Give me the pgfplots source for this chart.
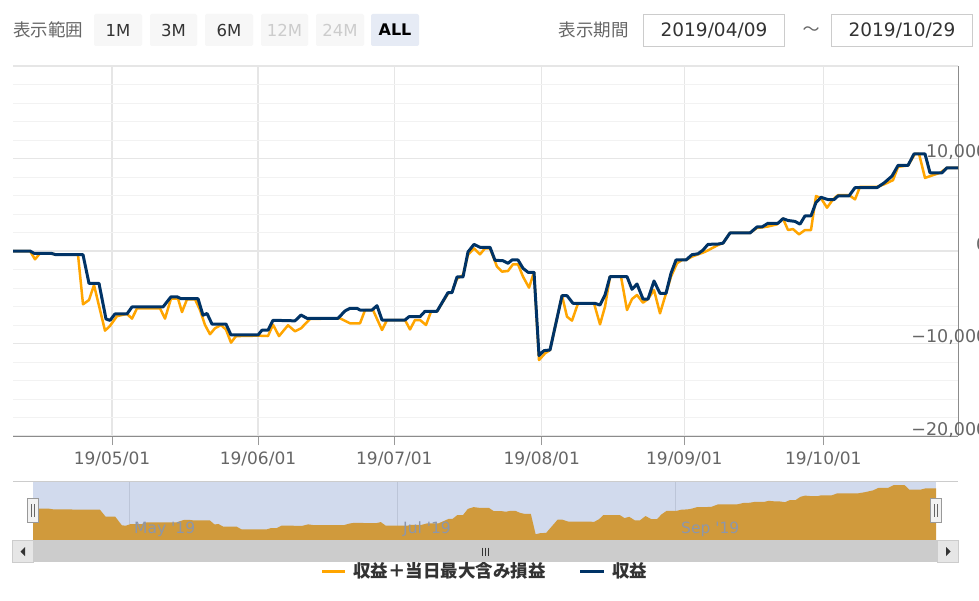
\documentclass[border=0pt]{standalone}
\usepackage{pgfplots}
\pgfplotsset{compat=1.18}
\usepackage{pgfplotstable}
\usepackage{fontspec}
\setmainfont{DejaVu Sans}
\newfontfamily\jp{Noto Sans CJK JP}
\definecolor{serA}{HTML}{FFA500}
\definecolor{serB}{HTML}{003366}
\definecolor{c666}{HTML}{666666}
\definecolor{c333}{HTML}{333333}
\definecolor{cCCC}{HTML}{CCCCCC}
\definecolor{cE6}{HTML}{E6E6E6}
\definecolor{cF2}{HTML}{F2F2F2}
\definecolor{c999}{HTML}{999999}
\definecolor{axisC}{HTML}{8C8C8C}
\definecolor{maskC}{HTML}{D1DAED}
\definecolor{navFill}{HTML}{D09A3C}
\definecolor{navGrid}{HTML}{BCC5D8}
\definecolor{navText}{HTML}{8C96AA}
\definecolor{btnBg}{HTML}{F7F7F7}
\definecolor{allBg}{HTML}{E6EBF5}

% x = ordinal (trading-day) position, y = yen
\pgfplotstableread{
x y
13 0
30 0
34 -250
51 -250
56 -400
83 -400
89 -3500
99 -3500
106 -7350
110 -7500
115 -6800
127 -6800
132 -6050
163 -6050
171 -4950
177 -4950
181 -5150
198 -5150
203 -6950
207 -6750
212 -7900
226 -7900
231 -9080
258 -9080
262 -8560
268 -8560
273 -7490
295 -7550
301 -6920
307 -7280
338 -7280
345 -6480
350 -6200
357 -6200
360 -6380
372 -6380
377 -5910
382 -7460
405 -7460
409 -7100
420 -7100
425 -6520
437 -6520
448 -4500
452 -4500
457 -2810
463 -2810
468 -100
474 720
480 400
490 400
495 -1000
503 -1050
508 -1330
512 -970
518 -970
523 -1870
528 -2300
534 -2300
539 -11300
544 -10770
550 -10700
562 -4830
567 -4830
573 -5660
595 -5660
600 -5840
605 -4760
610 -2770
627 -2770
632 -4140
637 -3570
643 -5190
648 -5190
654 -3240
660 -4580
666 -4580
671 -2410
676 -970
686 -970
692 -400
698 -300
703 100
708 720
718 750
723 850
730 1950
750 1950
757 2600
762 2600
768 3000
778 3000
783 3500
788 3300
795 3200
800 2900
805 3800
811 3800
816 5250
821 5800
828 5560
834 5560
838 5950
849 5950
855 6850
877 6850
884 7350
892 8100
898 9250
908 9250
914 10500
925 10500
930 8450
942 8450
947 9000
958 9000
}\shueki

\pgfplotstableread{
x y
13 0
30 0
35 -900
40 -250
51 -250
56 -400
78 -400
83 -5760
89 -5300
94 -3680
105 -8610
110 -8100
117 -7040
127 -6800
132 -7310
137 -6200
160 -6200
165 -7310
171 -5150
178 -5150
182 -6600
187 -5220
195 -5220
200 -6380
205 -8000
210 -9000
215 -8350
221 -8000
226 -8500
231 -9910
236 -9200
258 -9150
268 -9190
273 -7960
279 -9200
288 -8030
295 -8680
301 -8360
310 -7350
340 -7280
350 -7820
360 -7820
365 -6400
373 -6380
382 -8540
387 -7460
405 -7460
410 -8480
415 -7460
420 -7460
426 -8000
431 -6550
437 -6520
448 -4600
452 -4400
457 -3000
463 -2600
468 -400
474 280
480 -360
485 290
490 290
497 -1700
502 -2230
508 -2160
513 -1440
518 -1440
523 -2770
529 -3960
534 -2300
539 -11790
545 -11070
550 -10700
562 -4830
567 -7100
572 -7530
578 -5660
594 -5660
600 -7930
605 -6020
610 -2770
621 -2770
627 -6380
632 -5190
637 -4760
643 -5590
648 -5190
654 -4220
660 -6740
666 -4580
671 -2770
677 -1330
682 -970
686 -970
692 -610
698 -360
703 -180
708 70
718 650
723 850
730 1950
750 1950
757 2500
762 2550
768 2650
777 2880
783 3500
788 2270
793 2370
799 1800
805 2270
811 2270
816 5940
821 5700
827 4680
833 5580
838 6040
849 6040
855 5580
860 6940
877 6940
884 7200
893 7660
898 9100
908 9250
915 10500
919 10500
925 7900
933 8200
940 8450
947 9000
958 9000
}\total

\begin{document}
\begin{tikzpicture}
\begin{scope}[x=1pt,y=-1pt]
\fill[white] (0,0) rectangle (979,601);

% ---------- toolbar ----------
\node[anchor=west, inner sep=0pt, text=c666, font=\jp\fontsize{17.5}{20}\selectfont] at (13,30) {表示範囲};
\foreach \a/\b/\t in {94/142/1M,150/197/3M,205/253/6M}{
  \fill[btnBg, rounded corners=2pt] (\a,14) rectangle (\b,46);
  \node[text=c333, inner sep=0pt, font=\fontsize{16.5}{20}\selectfont] at ({(\a+\b)/2},30) {\t};
}
\foreach \a/\b/\t in {261/308/12M,316/364/24M}{
  \fill[btnBg, rounded corners=2pt] (\a,14) rectangle (\b,46);
  \node[text=cCCC, inner sep=0pt, font=\fontsize{16.5}{20}\selectfont] at ({(\a+\b)/2},30) {\t};
}
\fill[allBg, rounded corners=2pt] (371,14) rectangle (419,46);
\node[text=black, inner sep=0pt, font=\bfseries\fontsize{16}{20}\selectfont] at (395,30) {ALL};

\node[anchor=east, inner sep=0pt, text=c666, font=\jp\fontsize{17.5}{20}\selectfont] at (629,30) {表示期間};
\draw[cCCC, line width=1pt, fill=white] (643.5,14.5) rectangle (784.5,46.5);
\node[text=c333, inner sep=0pt, font=\fontsize{18.5}{20}\selectfont] at (714,30) {2019/04/09};
\node[text=c666, inner sep=0pt, font=\jp\fontsize{17}{20}\selectfont] at (811,31) {～};
\draw[cCCC, line width=1pt, fill=white] (831.5,14.5) rectangle (972.5,46.5);
\node[text=c333, inner sep=0pt, font=\fontsize{18.5}{20}\selectfont] at (902,30) {2019/10/29};

% navigator background (mask) and grid lines
\fill[maskC] (33,481) rectangle (936,540);
\foreach \g in {129,397,675}{ \draw[navGrid, line width=1pt] (\g,481) -- (\g,540); }
\end{scope}

% ---------- main chart ----------
\begin{axis}[
  at={(13pt,-436pt)}, anchor=south west,
  width=945pt, height=370pt, scale only axis,
  xmin=13, xmax=958, ymin=-20000, ymax=20000,
  axis x line*=bottom, axis y line*=right,
  axis line style={draw=axisC, line width=1pt},
  scaled y ticks=false, scaled x ticks=false,
  xtick={112,258,394.3,541.7,684.3,823.3},
  xticklabels={19/05/01,19/06/01,19/07/01,19/08/01,19/09/01,19/10/01},
  ytick={-20000,-10000,0,10000,20000},
  yticklabels={{−20,000},{−10,000},0,{10,000},{}},
  minor ytick={-18000,-16000,-14000,-12000,-8000,-6000,-4000,-2000,2000,4000,6000,8000,12000,14000,16000,18000},
  grid=both,
  major grid style={draw=cE6, line width=1.3pt},
  minor grid style={draw=cF2, line width=1pt},
  tick align=outside,
  major tick length=9pt, minor tick length=0pt,
  xtick style={draw=c999, line width=1pt},
  ytick style={draw=none},
  xticklabel style={font=\fontsize{17}{20}\selectfont, text=c666, anchor=north, inner sep=0pt, yshift=-6.5pt},
  yticklabel style={font=\fontsize{17.5}{20}\selectfont, text=c666, anchor=base east, inner sep=0pt, xshift=20.5pt, yshift=1pt},
]
\addplot[serA, line width=2.5pt, line join=round] table[x=x,y=y] {\total};
\addplot[serB, line width=3pt, line join=round] table[x=x,y=y] {\shueki};
\end{axis}

% ---------- navigator ----------
\begin{axis}[
  at={(33pt,-540pt)}, anchor=south west,
  width=903pt, height=59pt, scale only axis,
  xmin=13, xmax=958, ymin=0, ymax=26100,
  axis lines=none, ticks=none,
]
% navigator: same series, offset so that its floor (-13830) sits on the bottom edge
\addplot[draw=none, fill=navFill] table[x=x, y expr=\thisrow{y}+13830] {\shueki} \closedcycle;
\end{axis}

\begin{scope}[x=1pt,y=-1pt]
\node[anchor=west, inner sep=0pt, text=navText, font=\fontsize{15.5}{18}\selectfont] at (134,529) {May \textquotesingle 19};
\node[anchor=west, inner sep=0pt, text=navText, font=\fontsize{15.5}{18}\selectfont] at (403,529) {Jul \textquotesingle 19};
\node[anchor=west, inner sep=0pt, text=navText, font=\fontsize{15.5}{18}\selectfont] at (681,529) {Sep \textquotesingle 19};
\draw[cCCC, line width=1pt] (13,481) -- (958,481);
% handles
\foreach \h in {33,936}{
  \filldraw[fill=cF2, draw=c999, line width=1pt] (\h-5.5,498.5) rectangle (\h+5.5,522.5);
  \draw[c666, line width=1pt] (\h-1.5,504) -- (\h-1.5,517);
  \draw[c666, line width=1pt] (\h+1.5,504) -- (\h+1.5,517);
}
% scrollbar
\fill[cCCC] (13,540) rectangle (958,562);
\filldraw[fill=cE6, draw=cCCC, line width=1pt] (12.5,540.5) rectangle (33,562.5);
\filldraw[fill=cE6, draw=cCCC, line width=1pt] (937,540.5) rectangle (958,562.5);
\fill[c333] (20.5,551.5) -- (25,547) -- (25,556) -- cycle;
\fill[c333] (950.5,551.5) -- (946,547) -- (946,556) -- cycle;
\foreach \g in {482,485,488}{ \draw[c333, line width=1pt] (\g,547.5) -- (\g,555.5); }

% ---------- legend ----------
\draw[serA, line width=3pt] (322,571) -- (345,571);
\node[anchor=west, inner sep=0pt, text=c333, font=\jp\bfseries\fontsize{17.5}{20}\selectfont] at (353,571) {収益＋当日最大含み損益};
\draw[serB, line width=3pt] (580,571) -- (604,571);
\node[anchor=west, inner sep=0pt, text=c333, font=\jp\bfseries\fontsize{17.5}{20}\selectfont] at (612,571) {収益};
\end{scope}

\pgfresetboundingbox
\path[use as bounding box] (0pt,0pt) rectangle (979pt,-601pt);
\end{tikzpicture}
\end{document}
